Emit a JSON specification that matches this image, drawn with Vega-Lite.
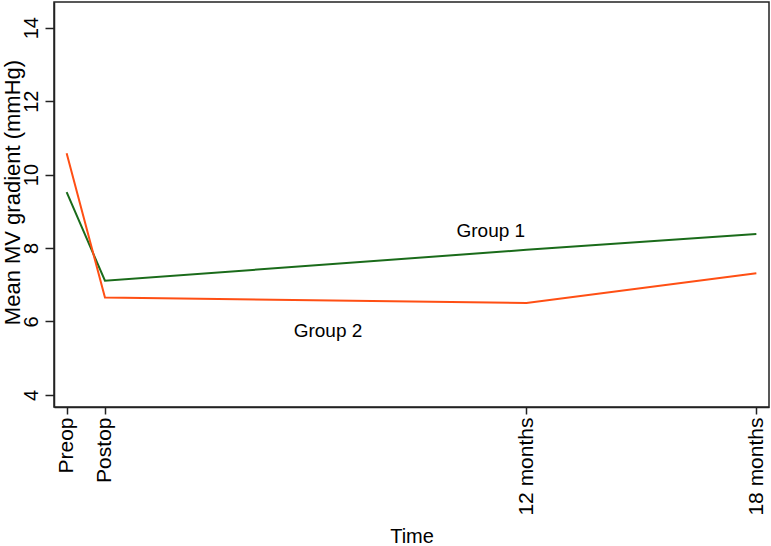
{
  "$schema": "https://vega.github.io/schema/vega-lite/v6.json",
  "width": 715,
  "height": 405,
  "autosize": {"type": "none"},
  "padding": {"left": 54, "top": 2, "right": 2, "bottom": 139},
  "background": "white",
  "config": {
    "font": "Liberation Sans",
    "view": {"stroke": "#222222", "strokeWidth": 1.5},
    "axis": {"grid": false, "domainColor": "#222222", "domainWidth": 1.5, "tickColor": "#222222", "tickWidth": 1.5, "tickSize": 8, "labelColor": "#000000", "titleColor": "#000000", "labelFont": "Liberation Sans", "titleFont": "Liberation Sans", "titleFontWeight": "normal"}
  },
  "datasets": {
    "lines": [
      {"group": "Group 1", "time": 0, "value": 9.52},
      {"group": "Group 1", "time": 1, "value": 7.11},
      {"group": "Group 1", "time": 12, "value": 7.95},
      {"group": "Group 1", "time": 18, "value": 8.38},
      {"group": "Group 2", "time": 0, "value": 10.58},
      {"group": "Group 2", "time": 1, "value": 6.65},
      {"group": "Group 2", "time": 12, "value": 6.5},
      {"group": "Group 2", "time": 18, "value": 7.31}
    ],
    "labels": [
      {"label": "Group 1", "time": 11.07, "value": 8.46},
      {"label": "Group 2", "time": 6.82, "value": 5.74}
    ]
  },
  "layer": [
    {
      "data": {"name": "lines"},
      "mark": {"type": "line", "strokeWidth": 2},
      "encoding": {
        "x": {
          "field": "time", "type": "quantitative",
          "scale": {"domain": [-0.33, 18.33], "nice": false, "zero": false},
          "axis": {
            "values": [0, 1, 12, 18],
            "labelExpr": "datum.value == 0 ? 'Preop' : datum.value == 1 ? 'Postop' : datum.value + ' months'",
            "labelAngle": 270, "labelAlign": "right", "labelBaseline": "middle",
            "labelFontSize": 21, "labelPadding": 3, "tickSize": 7,
            "title": "Time", "titleFontSize": 20, "titleY": 135, "titleBaseline": "alphabetic"
          }
        },
        "y": {
          "field": "value", "type": "quantitative",
          "scale": {"domain": [3.67, 14.7], "nice": false, "zero": false},
          "axis": {
            "values": [4, 6, 8, 10, 12, 14],
            "labelAngle": 270, "labelAlign": "center", "labelBaseline": "middle",
            "labelFontSize": 20, "labelPadding": 14, "tickSize": 9,
            "title": "Mean MV gradient (mmHg)", "titleFontSize": 22,
            "titleAngle": 270, "titleX": -35, "titleY": 190, "titleAlign": "center", "titleBaseline": "alphabetic"
          }
        },
        "color": {
          "field": "group", "type": "nominal",
          "scale": {"domain": ["Group 1", "Group 2"], "range": ["#1a6b1a", "#ff4f14"]},
          "legend": null
        }
      }
    },
    {
      "data": {"name": "labels"},
      "mark": {"type": "text", "fontSize": 19, "align": "center", "baseline": "middle", "color": "#000000", "font": "Liberation Sans"},
      "encoding": {
        "x": {"field": "time", "type": "quantitative"},
        "y": {"field": "value", "type": "quantitative"},
        "text": {"field": "label"}
      }
    }
  ]
}
